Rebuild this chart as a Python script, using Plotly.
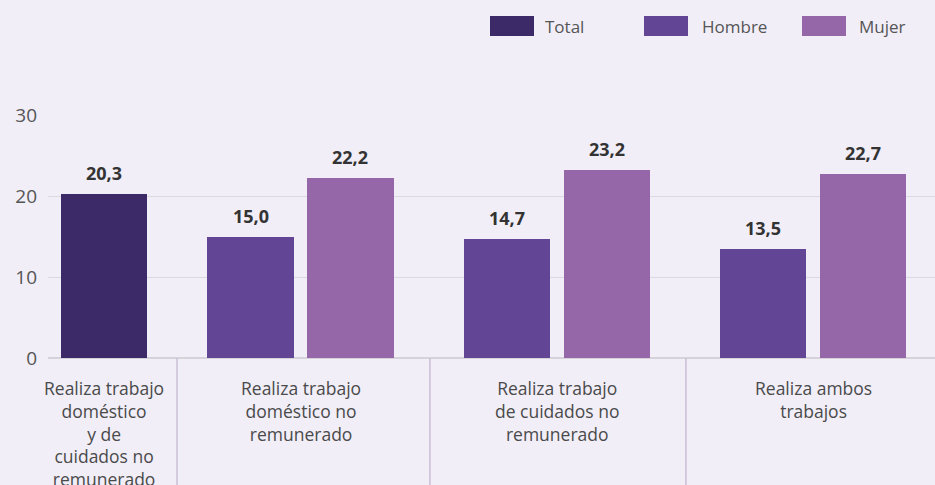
import plotly.graph_objects as go

# ---- data ----
categories = [
    "Realiza trabajo<br>doméstico<br>y de<br>cuidados no<br>remunerado",
    "Realiza trabajo<br>doméstico no<br>remunerado",
    "Realiza trabajo<br>de cuidados no<br>remunerado",
    "Realiza ambos<br>trabajos",
]
series_names = ["Total", "Hombre", "Mujer"]
total_values = [20.3]
hombre_values = [15.0, 14.7, 13.5]
mujer_values = [22.2, 23.2, 22.7]
y_ticks = [0, 10, 20, 30]

# ---- styles / layout constants ----
colors = {"Total": "#3c2968", "Hombre": "#634595", "Mujer": "#9667a8"}
bg = "#f1eef8"
FONT = "Open Sans"

W, H = 935, 485
ML, MR, MT, MB = 48, 0, 115, 127
PW, PH = W - ML - MR, H - MT - MB

group_pos = [0.233, 1.0, 2.0, 3.0]   # group centres on numeric axis
bar_w = 0.336
off = 0.195
x_range = [0.0146, 3.476]
separators = [0.518, 1.505, 2.504]

total_x = group_pos[:1]
hombre_x = [g - off for g in group_pos[1:]]
mujer_x = [g + off for g in group_pos[1:]]

fig = go.Figure()
for name, xs, ys in [("Total", total_x, total_values),
                     ("Hombre", hombre_x, hombre_values),
                     ("Mujer", mujer_x, mujer_values)]:
    fig.add_trace(go.Bar(x=xs, y=ys, width=bar_w, name=name,
                         marker=dict(color=colors[name], line=dict(width=0)),
                         showlegend=False, hoverinfo="skip"))
    for x, y in zip(xs, ys):
        fig.add_annotation(x=x, y=y, xref="x", yref="y",
                           text="<b>" + f"{y:.1f}".replace(".", ",") + "</b>",
                           showarrow=False, yanchor="middle", yshift=21,
                           font=dict(family=FONT, size=18, color="#333333"))

# category labels
for g, lab in zip(group_pos, categories):
    fig.add_annotation(x=g, y=0, xref="x", yref="paper", text=lab,
                       showarrow=False, yanchor="top", yshift=-16,
                       align="center",
                       font=dict(family=FONT, size=17.5, color="#4a4a4a"))

# separators
for s in separators:
    fig.add_shape(type="line", x0=s, x1=s, xref="x", yref="paper",
                  y0=0, y1=-(MB + 5) / PH,
                  line=dict(color="#cbbfd6", width=1.5))

# custom legend
def px_x(p):
    return (p - ML) / PW

def px_y(p):
    return (H - MB - p) / PH

legend_items = [("Total", 490, 543), ("Hombre", 644, 700), ("Mujer", 802, 857)]
for name, sx, tx in legend_items:
    fig.add_shape(type="rect", xref="paper", yref="paper",
                  x0=px_x(sx), x1=px_x(sx + 44), y0=px_y(36), y1=px_y(16),
                  fillcolor=colors[name], line=dict(width=0))
    fig.add_annotation(x=px_x(tx), y=px_y(26), xref="paper", yref="paper",
                       text=name, showarrow=False, xanchor="left",
                       yanchor="middle",
                       font=dict(family=FONT, size=17, color="#555555"))

fig.update_layout(
    width=W, height=H,
    margin=dict(l=ML, r=MR, t=MT, b=MB),
    paper_bgcolor=bg, plot_bgcolor=bg,
    bargap=0, showlegend=False,
    font=dict(family=FONT),
    xaxis=dict(range=x_range, showgrid=False, zeroline=False,
               showticklabels=False, ticks="", fixedrange=True),
    yaxis=dict(range=[0, 30], tickvals=y_ticks, showgrid=True,
               gridcolor="#dcd8e0", gridwidth=1, zeroline=True,
               zerolinecolor="#d6d2da", zerolinewidth=1.5,
               tickfont=dict(family=FONT, size=19, color="#555555"),
               ticks="", ticklabelstandoff=10, fixedrange=True),
)

fig.write_html("out.html",
               config={"displayModeBar": False},
               post_script="document.body.style.margin='0';"
                           "document.body.style.overflow='hidden';")
